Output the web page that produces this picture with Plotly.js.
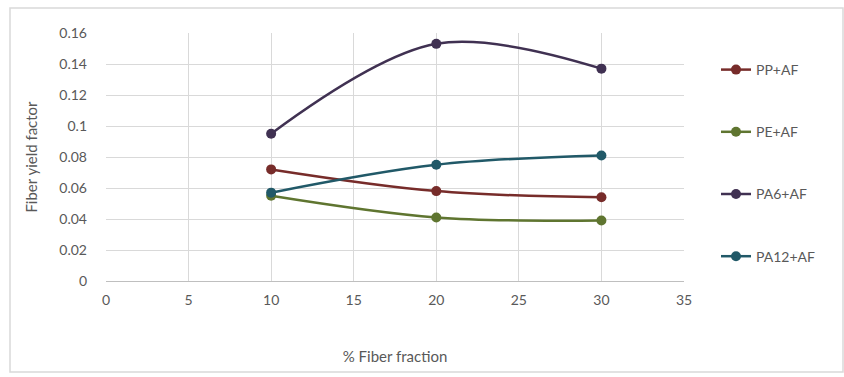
<!DOCTYPE html>
<html><head><meta charset="utf-8">
<script src="https://cdn.plot.ly/plotly-3.0.1.min.js"></script>
<style>html,body{margin:0;padding:0;background:#fff}#c{width:844px;height:377px}</style>
</head><body><div id="c"></div>
<script>
const fiberFraction = [10, 20, 30];
const ppAF = [0.072, 0.058, 0.054];
const peAF = [0.055, 0.041, 0.039];
const pa6AF = [0.095, 0.153, 0.137];
const pa12AF = [0.057, 0.075, 0.081];
const seriesNames = ['PP+AF', 'PE+AF', 'PA6+AF', 'PA12+AF'];
const seriesColors = ['#772c2a', '#5f7530', '#403152', '#215968'];
const seriesValues = [ppAF, peAF, pa6AF, pa12AF];
const xTicks = [0, 5, 10, 15, 20, 25, 30, 35];
const yTicks = [0, 0.02, 0.04, 0.06, 0.08, 0.1, 0.12, 0.14, 0.16];
const yTickText = ['0', '0.02', '0.04', '0.06', '0.08', '0.1', '0.12', '0.14', '0.16'];

const font = 'Lato, "Open Sans", sans-serif';
const traces = seriesNames.map((n, i) => ({
  x: fiberFraction, y: seriesValues[i], name: n, type: 'scatter', mode: 'lines+markers',
  legendgroup: 'g' + i,
  line: {color: seriesColors[i], width: 2.5, shape: 'spline', smoothing: 1},
  marker: {color: seriesColors[i], size: 10}
}));

const L = 106, R = 684, T = 33, B = 281;
const pw = R - L, ph = B - T;
const layout = {
  width: 844, height: 377,
  margin: {l: L, r: 844 - R, t: T, b: 377 - B},
  paper_bgcolor: '#fff', plot_bgcolor: '#fff',
  font: {family: font, size: 14, color: '#595959'},
  showlegend: true,
  legend: {x: (716 - L) / pw, xanchor: 'left', y: (B - 54) / ph, yanchor: 'top',
    tracegroupgap: 41, font: {family: font, size: 14, color: '#595959'}, bgcolor: 'rgba(0,0,0,0)'},
  xaxis: {range: [0, 35], tickvals: xTicks, ticktext: xTicks.map(String), showgrid: true, gridcolor: '#d9d9d9',
    zeroline: false, showline: true, linecolor: '#bfbfbf', ticks: '', ticklabelstandoff: 6,
    title: {text: '% Fiber fraction', font: {family: font, size: 15, color: '#595959'}, standoff: 44}, fixedrange: true},
  yaxis: {range: [0, 0.16], tickvals: yTicks, ticktext: yTickText, showgrid: true, gridcolor: '#d9d9d9',
    zeroline: false, showline: false, ticks: '', ticklabelstandoff: 18,
    title: {text: 'Fiber yield factor', font: {family: font, size: 15, color: '#595959'}, standoff: 18}, fixedrange: true},
  shapes: [{type: 'rect', xref: 'paper', yref: 'paper',
    x0: (10 - L) / pw, x1: (843 - L) / pw, y0: (B - 372) / ph, y1: (B - 8) / ph,
    line: {color: '#d9d9d9', width: 1.5}, fillcolor: 'rgba(0,0,0,0)', layer: 'below'}]
};
Plotly.newPlot('c', traces, layout, {displayModeBar: false, staticPlot: true});
</script></body></html>
